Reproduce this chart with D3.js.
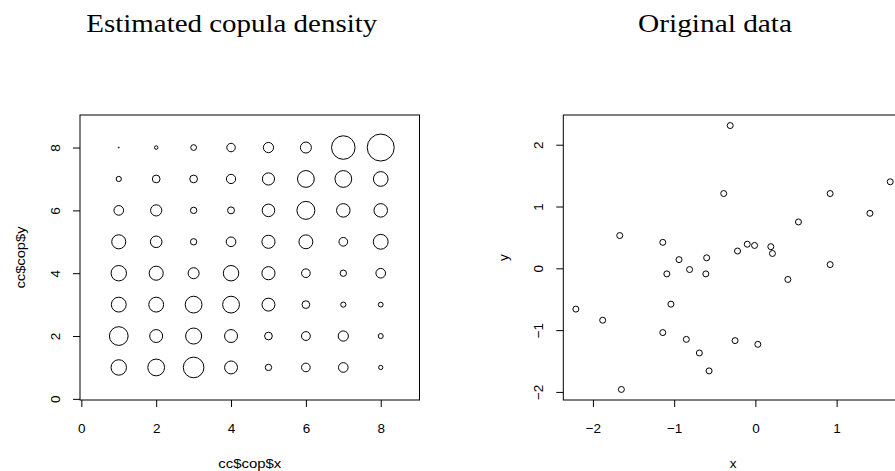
<!DOCTYPE html>
<html>
<head>
<meta charset="utf-8">
<script src="https://cdn.jsdelivr.net/npm/d3@7"></script>
<style>
  html, body { margin: 0; padding: 0; background: #fff; }
  svg { display: block; }
  .tick text, .lab { font-family: "Liberation Sans", Arial, sans-serif; font-size: 13.5px; fill: #000; }
  .title { font-family: "Liberation Serif", "DejaVu Serif", serif; font-size: 25px; fill: #000; }
</style>
</head>
<body>
<svg id="chart" width="895" height="471"></svg>
<script>
// ---- Data ----
const gridX = [1, 2, 3, 4, 5, 6, 7, 8];
const gridY = [1, 2, 3, 4, 5, 6, 7, 8];
// estimated copula density, one array per row (y = 1 .. 8), columns x = 1 .. 8
const densRow1 = [1.60, 1.74, 2.14, 1.34, 0.66, 0.90, 1.00, 0.44];
const densRow2 = [1.94, 1.34, 1.66, 1.34, 0.80, 0.92, 1.06, 0.52];
const densRow3 = [1.54, 1.54, 1.74, 1.74, 1.34, 0.80, 0.54, 0.50];
const densRow4 = [1.60, 1.46, 1.14, 1.60, 1.36, 0.90, 0.66, 1.00];
const densRow5 = [1.46, 1.20, 0.66, 1.00, 1.36, 1.44, 0.90, 1.54];
const densRow6 = [1.00, 1.16, 0.66, 0.72, 1.30, 1.86, 1.40, 1.40];
const densRow7 = [0.54, 0.80, 0.80, 0.96, 1.26, 1.74, 1.74, 1.52];
const densRow8 = [0.10, 0.36, 0.60, 0.88, 1.06, 1.14, 2.44, 2.80];
const densRows = [densRow1, densRow2, densRow3, densRow4, densRow5, densRow6, densRow7, densRow8];
const copTicks = [0, 2, 4, 6, 8];

// original data
const origX = [-2.21, -1.88, -1.67, -1.65, -1.14, -1.09, -0.94, -0.81, -1.04, -1.14,
               -0.85, -0.69, -0.60, -0.61, -0.57, -0.31, -0.39, 0.92, 1.66, 1.41,
               0.53, -0.10, -0.01, -0.22, 0.19, 0.21, 0.92, 0.40, -0.25, 0.03];
const origY = [-0.66, -0.84, 0.53, -1.96, 0.42, -0.09, 0.14, -0.02, -0.58, -1.04,
               -1.15, -1.37, 0.17, -0.09, -1.66, 2.31, 1.21, 1.21, 1.40, 0.89,
               0.75, 0.39, 0.37, 0.28, 0.35, 0.24, 0.06, -0.18, -1.17, -1.23];
const origXTicks = [-2, -1, 0, 1, 2];
const origYTicks = [-2, -1, 0, 1, 2];

const titles = ["Estimated copula density", "Original data"];
const xLabels = ["cc$cop$x", "x"];
const yLabels = ["cc$cop$y", "y"];

// ---- Layout ----
const svg = d3.select("#chart");
const boxW = 339.5, plotTop = 115, plotBottom = 400;
const panelLeft = [80, 563.3];

function ext(lo, hi) { const d = (hi - lo) * 0.04; return [lo - d, hi + d]; }
const fmt = v => (v < 0 ? "\u2212" + Math.abs(v) : String(v));
const inDom = (s, t) => t.filter(v => v >= s.domain()[0] && v <= s.domain()[1]);

function drawPanel(i, xs, ys, xt, yt) {
  const L = panelLeft[i], R = L + boxW;
  const g = svg.append("g");
  // x axis
  const xa = g.append("g").attr("transform", `translate(0,${plotBottom})`)
    .call(d3.axisBottom(xs).tickValues(inDom(xs, xt)).tickSize(7).tickPadding(16).tickFormat(fmt));
  xa.select(".domain").remove();
  xa.selectAll("line").attr("stroke", "#000");
  // y axis
  const ya = g.append("g").attr("transform", `translate(${L},0)`)
    .call(d3.axisLeft(ys).tickValues(inDom(ys, yt)).tickSize(7).tickFormat(fmt));
  ya.select(".domain").remove();
  ya.selectAll("line").attr("stroke", "#000");
  ya.selectAll(".tick text")
    .attr("x", null).attr("dy", null).attr("y", null)
    .attr("text-anchor", "middle")
    .attr("dominant-baseline", "central")
    .attr("transform", "translate(-25,0) rotate(-90)");
  // box
  g.append("rect").attr("x", L).attr("y", plotTop).attr("width", boxW).attr("height", plotBottom - plotTop)
    .attr("fill", "none").attr("stroke", "#000").attr("stroke-width", 1);
  // titles & labels
  g.append("text").attr("class", "title").attr("x", (L + R) / 2 - 18).attr("y", 32)
    .attr("text-anchor", "middle").attr("textLength", i === 0 ? 291 : 154)
    .attr("lengthAdjust", "spacingAndGlyphs").text(titles[i]);
  const xl = g.append("text").attr("class", "lab").attr("x", (L + R) / 2).attr("y", 468)
    .attr("text-anchor", "middle").text(xLabels[i]);
  const yl = g.append("text").attr("class", "lab")
    .attr("transform", `translate(${L - 60},${(plotTop + plotBottom) / 2}) rotate(-90)`)
    .attr("text-anchor", "middle").attr("dominant-baseline", "central").text(yLabels[i]);
  if (i === 0) {
    xl.attr("textLength", 63).attr("lengthAdjust", "spacingAndGlyphs");
    yl.attr("textLength", 62).attr("lengthAdjust", "spacingAndGlyphs");
  }
  return g;
}

// Left panel
const xL = d3.scaleLinear().domain(ext(0.3, 8.7)).range([panelLeft[0], panelLeft[0] + boxW]);
const yL = d3.scaleLinear().domain(ext(0.3, 8.7)).range([plotBottom, plotTop]);
const gL = drawPanel(0, xL, yL, copTicks, copTicks);
const maxD = d3.max(densRows.flat());
const rS = d3.scaleLinear().domain([0, maxD]).range([0, 13.5]);
const cells = [];
densRows.forEach((row, j) => row.forEach((d, k) => cells.push({ x: gridX[k], y: gridY[j], d })));
gL.append("g").selectAll("circle").data(cells).join("circle")
  .attr("cx", c => xL(c.x)).attr("cy", c => yL(c.y)).attr("r", c => rS(c.d))
  .attr("fill", "none").attr("stroke", "#000").attr("stroke-width", 1);

// Right panel
const xR = d3.scaleLinear().domain(ext(d3.min(origX), d3.max(origX))).range([panelLeft[1], panelLeft[1] + boxW]);
const yR = d3.scaleLinear().domain(ext(d3.min(origY), d3.max(origY))).range([plotBottom, plotTop]);
const gR = drawPanel(1, xR, yR, origXTicks, origYTicks);
gR.append("g").selectAll("circle").data(origX.map((x, k) => ({ x, y: origY[k] }))).join("circle")
  .attr("cx", p => xR(p.x)).attr("cy", p => yR(p.y)).attr("r", 3)
  .attr("fill", "none").attr("stroke", "#000").attr("stroke-width", 1);
</script>
</body>
</html>
